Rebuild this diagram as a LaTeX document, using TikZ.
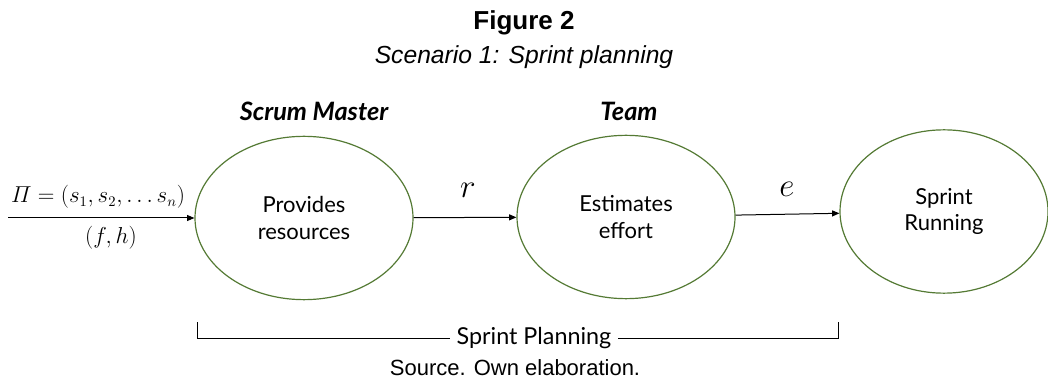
\documentclass[tikz,border=0pt]{standalone}
\usepackage{amsmath,amssymb}
\usepackage[no-math]{fontspec}
\setmainfont{Liberation Sans}
\newfontfamily\latofont{Lato}
\usepackage{tikz}
\usetikzlibrary{shapes.geometric, arrows.meta}
\usepackage{xcolor}
\definecolor{stagegreen}{RGB}{84,122,52}

\tikzset{
  stage/.style={ellipse, draw=stagegreen, line width=0.9pt, inner sep=0pt,
    minimum width=163.5pt, minimum height=122.5pt, align=center,
    font=\latofont\fontsize{16.5}{20}\selectfont},
  flow/.style={-{Triangle[length=5.5pt,width=4.5pt]}, line width=0.75pt},
  role/.style={font=\latofont\bfseries\itshape\fontsize{19}{22}\selectfont},
  mathlbl/.style={inner sep=0.75pt, font=\fontsize{16}{19}\selectfont},
}

\begin{document}
\begin{tikzpicture}[x=0.75pt,y=0.75pt,yscale=-1,xscale=1]
\useasboundingbox (0,0) rectangle (1048,384);

% Title
\node (fig) at (524,23) {\fontsize{19.5}{22}\selectfont\bfseries Figure 2};
\node (scen) at (524,57) {\fontsize{18.5}{22}\selectfont\itshape Scenario 1: Sprint planning};

% Stages
\node [stage] (prov) at (304,218) {Provides\\resources};
\node [stage] (est) at (626,217) {Estimates\\effort};
\node [stage, minimum width=156pt] (run) at (944,211.5) {Sprint\\Running};

% Roles
\node [role] (sm) at (314,111) {Scrum Master};
\node [role] (team) at (629,111) {Team};

% Flows
\coordinate (start) at (8,218);
\draw [flow] (start) -- (prov.west);
\draw [flow] (prov) -- (est);
\draw [flow] (est) -- (run);

% Flow labels
\node [mathlbl] (pi) at (98,197) {$\varPi=(s_1,s_2,\ldots s_n)$};
\node [mathlbl, font=\fontsize{18}{21}\selectfont] (fh) at (111,238) {$(f,h)$};
\node [mathlbl, font=\fontsize{24}{28}\selectfont] (r) at (468,190) {$r$};
\node [mathlbl, font=\fontsize{24}{28}\selectfont] (e) at (787,189) {$e$};

% Bracket
\node [font=\latofont\fontsize{17.5}{21}\selectfont, inner sep=5pt] (plan) at (534,338) {Sprint Planning};
\coordinate (bl) at (197,322);
\coordinate (br) at (838,322);
\draw [line width=0.6pt] (bl) -- (bl |- plan) -- (plan.west);
\draw [line width=0.6pt] (plan.east) -- (br |- plan) -- (br);

% Source
\node (src) at (515,368) {\fontsize{16.5}{19}\selectfont Source. Own elaboration.};

\end{tikzpicture}
\end{document}
